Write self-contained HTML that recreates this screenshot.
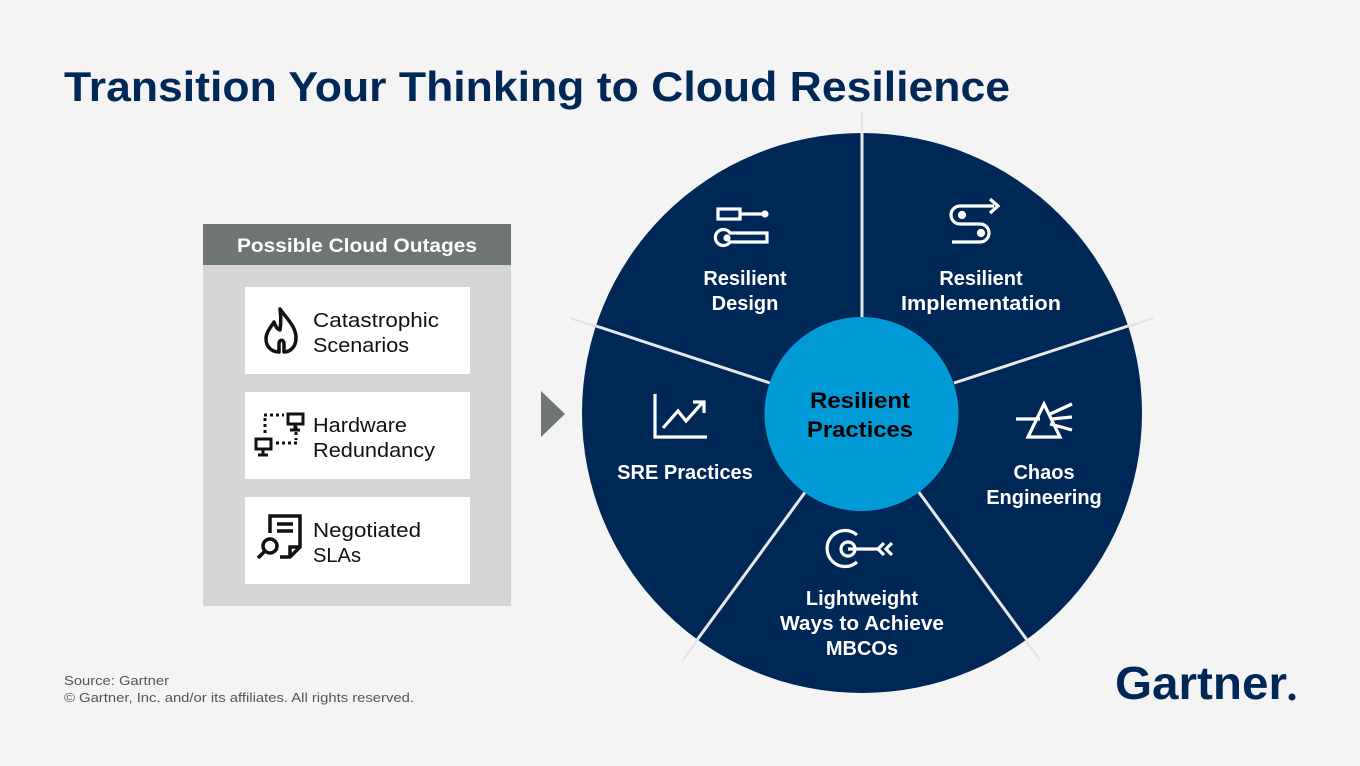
<!DOCTYPE html>
<html><head><meta charset="utf-8"><style>
html,body{margin:0;padding:0;background:#f4f4f4;}
body{width:1360px;height:766px;position:relative;overflow:hidden;font-family:"Liberation Sans",sans-serif;}
</style></head><body>
<svg width="1360" height="766" style="position:absolute;left:0;top:0" font-family="Liberation Sans, sans-serif">
<text x="64" y="101" font-size="42" font-weight="bold" fill="#002856" textLength="946" lengthAdjust="spacingAndGlyphs">Transition Your Thinking to Cloud Resilience</text>
<rect x="203" y="224" width="308" height="382" fill="#d5d5d5"/>
<rect x="203" y="224" width="308" height="41" fill="#6e7572"/>
<text x="357" y="252" font-size="19" font-weight="bold" fill="#fff" text-anchor="middle" textLength="240" lengthAdjust="spacingAndGlyphs">Possible Cloud Outages</text>
<rect x="245" y="287" width="225" height="87" fill="#fff"/>
<rect x="245" y="392" width="225" height="87" fill="#fff"/>
<rect x="245" y="497" width="225" height="87" fill="#fff"/>
<g font-size="20" fill="#111">
<text x="313" y="327" textLength="126" lengthAdjust="spacingAndGlyphs">Catastrophic</text><text x="313" y="352" textLength="96" lengthAdjust="spacingAndGlyphs">Scenarios</text>
<text x="313" y="432" textLength="94" lengthAdjust="spacingAndGlyphs">Hardware</text><text x="313" y="457" textLength="122" lengthAdjust="spacingAndGlyphs">Redundancy</text>
<text x="313" y="537" textLength="108" lengthAdjust="spacingAndGlyphs">Negotiated</text><text x="313" y="562" textLength="48" lengthAdjust="spacingAndGlyphs">SLAs</text>
</g>
<path d="M280 309 C286 318 296 326 296 338 C296 347 290 352 284 352 L284 344 C284 339 279 339 279 344 L279 352 C272 352 266 347 266 339 C266 332 271 327 274 322 C276 327 277 329 280 330 C281 323 281 316 280 309Z" fill="none" stroke="#111" stroke-width="3.5" stroke-linejoin="round"/>
<g fill="none" stroke="#111" stroke-width="3">
<rect x="288" y="414" width="15" height="10"/><line x1="295" y1="424" x2="295" y2="429"/><line x1="290" y1="430" x2="300" y2="430"/>
<rect x="256" y="439" width="15" height="10"/><line x1="263" y1="449" x2="263" y2="454"/><line x1="258" y1="455" x2="268" y2="455"/>
<path d="M264 415 H284 M265 418 V436 M276 443 H297 M296 426 V440" stroke-dasharray="3 3"/>
</g>
<g fill="none" stroke="#111" stroke-width="3.5">
<path d="M270 533 V516 H300 V547 L290 557 H280"/><path d="M290 557 V547 H300"/>
<line x1="277" y1="524" x2="293" y2="524"/><line x1="277" y1="531" x2="293" y2="531"/>
<circle cx="270" cy="546" r="7"/><line x1="264" y1="552" x2="258" y2="558"/>
</g>
<polygon points="541,391 565,414 541,437" fill="#6e7572"/>
<g stroke="#e2e2e2" stroke-width="2">
<line x1="862" y1="112" x2="862" y2="140"/>
<line x1="570" y1="318" x2="600" y2="328"/>
<line x1="1153" y1="318" x2="1124" y2="328"/>
<line x1="683" y1="660" x2="700" y2="636"/>
<line x1="1040" y1="660" x2="1022" y2="636"/>
</g>
<circle cx="862" cy="413" r="280" fill="#002856"/>
<g stroke="#e8e8e8" stroke-width="3">
<line x1="862" y1="133" x2="862" y2="320"/>
<line x1="596" y1="326" x2="770" y2="383"/>
<line x1="1128" y1="326" x2="954" y2="383"/>
<line x1="697" y1="640" x2="806" y2="491"/>
<line x1="1027" y1="640" x2="918" y2="491"/>
</g>
<circle cx="861.5" cy="414" r="97" fill="#009ad6"/>
<g font-size="22" font-weight="bold" fill="#000" text-anchor="middle">
<text x="860" y="408" textLength="100" lengthAdjust="spacingAndGlyphs">Resilient</text><text x="860" y="437" textLength="106" lengthAdjust="spacingAndGlyphs">Practices</text>
</g>
<g font-size="20" fill="#fff" text-anchor="middle" font-weight="bold">
<text x="745" y="285">Resilient</text><text x="745" y="310">Design</text>
<text x="981" y="285">Resilient</text><text x="981" y="310" textLength="160" lengthAdjust="spacingAndGlyphs">Implementation</text>
<text x="685" y="479">SRE Practices</text>
<text x="1044" y="479">Chaos</text><text x="1044" y="504">Engineering</text>
<text x="862" y="605">Lightweight</text><text x="862" y="630" textLength="164" lengthAdjust="spacingAndGlyphs">Ways to Achieve</text><text x="862" y="655">MBCOs</text>
</g>
<g fill="none" stroke="#fff" stroke-width="3.2">
<rect x="718" y="209" width="22" height="10"/><line x1="740" y1="214" x2="765" y2="214"/><circle cx="765" cy="214" r="2" fill="#fff"/>
<path d="M730 233 H767 V242 H730 A8 8 0 1 1 730 233Z"/><circle cx="727" cy="238" r="2" fill="#fff"/>
<path d="M994 206 H960 A9 9 0 0 0 960 224 H980 A9 9 0 0 1 980 242 H952"/><path d="M990 199 L998 206 L990 213"/>
<circle cx="962" cy="215" r="2.5" fill="#fff"/><circle cx="981" cy="233" r="2.5" fill="#fff"/>
<path d="M655 394 V437 H707"/><path d="M663 428 L678 411 L686 421 L703 402"/><path d="M693 402 H704 V413"/>
<path d="M1028 437 L1044 404 L1060 437Z"/><line x1="1016" y1="419" x2="1040" y2="419"/><path d="M1050 414 L1072 404 M1052 419 L1072 417 M1050 424 L1072 430"/>
<path d="M857 535 A18 18 0 1 0 857 562"/><circle cx="848" cy="549" r="7"/><line x1="848" y1="549" x2="878" y2="549"/><path d="M884 543 L878 549 L884 555 M892 543 L886 549 L892 555"/>
</g>
<g font-size="13" fill="#555">
<text x="64" y="685" textLength="105" lengthAdjust="spacingAndGlyphs">Source: Gartner</text>
<text x="64" y="702" textLength="350" lengthAdjust="spacingAndGlyphs">© Gartner, Inc. and/or its affiliates. All rights reserved.</text>
</g>
<text x="1115" y="699" font-size="46" font-weight="bold" fill="#002856" textLength="172" lengthAdjust="spacingAndGlyphs">Gartner</text>
<circle cx="1292" cy="697" r="3.5" fill="#002856"/>
</svg>
</body></html>
